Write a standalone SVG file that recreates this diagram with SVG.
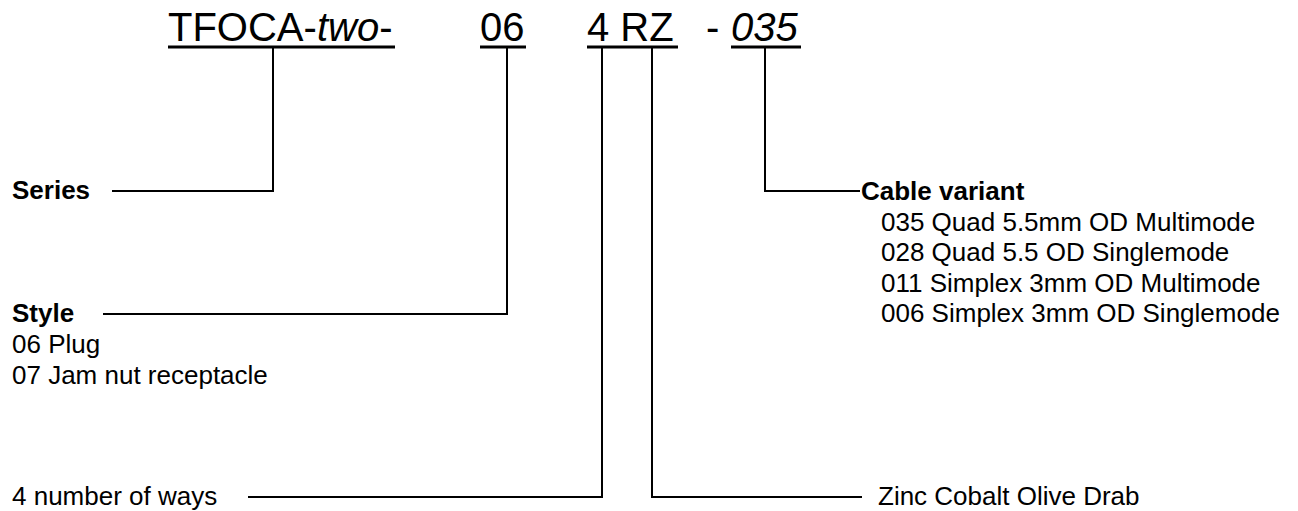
<svg xmlns="http://www.w3.org/2000/svg" width="1298" height="511" viewBox="0 0 1298 511">
<style>
.t{font-family:"Liberation Sans",Arial,sans-serif;fill:#000}
.title{font-size:40px}
.b{font-size:26px;font-weight:bold}
.r{font-size:26px}
.it{font-style:italic}
.ln{stroke:#000;stroke-width:2;fill:none}
.ul{stroke:#000;stroke-width:3;fill:none}
</style>
<rect width="1298" height="511" fill="#fff"/>
<g id="title">
<text class="t title" x="168" y="41">TFOCA-<tspan class="it">two</tspan>-</text>
<line class="ul" x1="168" y1="47" x2="395" y2="47"/>
<text class="t title" x="480" y="41">06</text>
<line class="ul" x1="480" y1="47" x2="526" y2="47"/>
<text class="t title" x="587" y="41">4 RZ</text>
<line class="ul" x1="587" y1="47" x2="678" y2="47"/>
<text class="t title" x="706" y="41">-</text>
<text class="t title it" x="731" y="41">035</text>
<line class="ul" x1="731" y1="47" x2="801" y2="47"/>
</g>
<g id="connectors">
<polyline class="ln" points="273,48 273,191 112,191"/>
<polyline class="ln" points="507,48 507,314 103,314"/>
<polyline class="ln" points="602,48 602,497 248,497"/>
<polyline class="ln" points="652,48 652,497 862,497"/>
<polyline class="ln" points="765,48 765,191 860,191"/>
</g>
<g id="series"><text class="t b" x="12" y="199">Series</text></g>
<g id="style">
<text class="t b" x="12" y="322">Style</text>
<text class="t r" x="12" y="353">06 Plug</text>
<text class="t r" x="12" y="384">07 Jam nut receptacle</text>
</g>
<g id="ways"><text class="t r" x="12" y="505">4 number of ways</text></g>
<g id="finish"><text class="t r" x="878" y="505">Zinc Cobalt Olive Drab</text></g>
<g id="cable">
<text class="t b" x="861" y="200">Cable variant</text>
<text class="t r" x="881" y="231">035 Quad 5.5mm OD Multimode</text>
<text class="t r" x="881" y="261">028 Quad 5.5 OD Singlemode</text>
<text class="t r" x="881" y="292">011 Simplex 3mm OD Multimode</text>
<text class="t r" x="881" y="322">006 Simplex 3mm OD Singlemode</text>
</g>
</svg>
